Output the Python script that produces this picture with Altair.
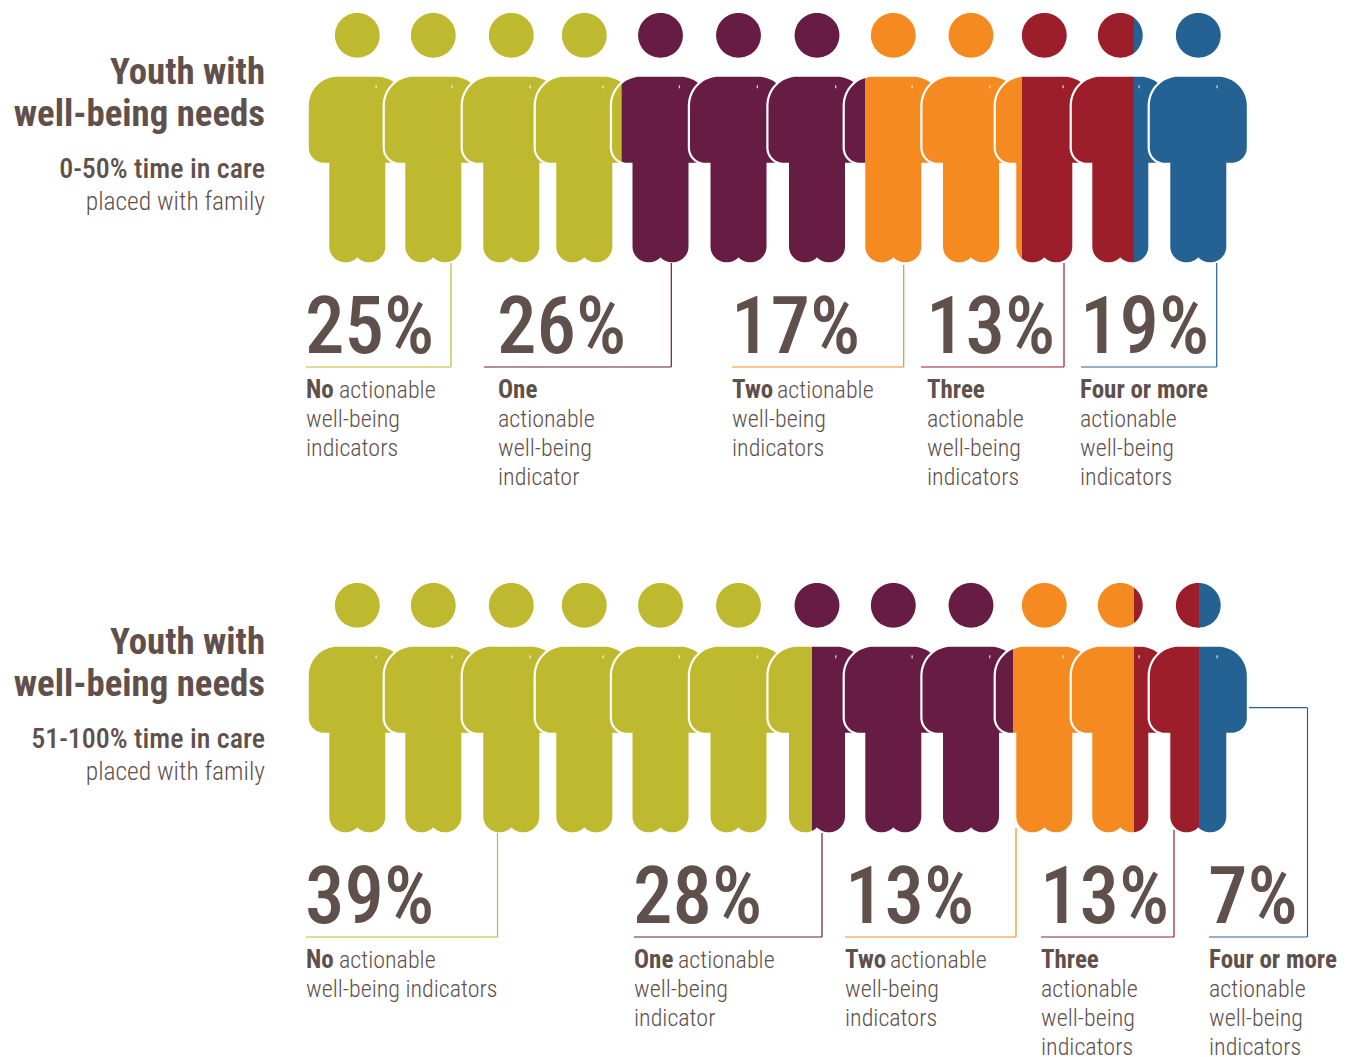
import math
import altair as alt
import pandas as pd

# --- values -----------------------------------------------------------------
person_x = [357.3, 433.3, 511.3, 584.3, 660.5, 738.5, 817, 893.3, 971, 1044.3, 1120.3, 1198.3]
palette = ["#BFB92F", "#661C43", "#F58B20", "#9B1E2A", "#256294"]
ink = "#5F504C"

panel_offset = [0, 570]
body_splits = [[621.7, 865, 1022, 1133.7], [812, 1013, 1134, 1199]]
head_splits = [[621.7, 865, 1022, 1133.7], [794, 1013, 1134, 1199]]

shares = [[25, 26, 17, 13, 19], [39, 28, 13, 13, 7]]
share_x = [[305, 497, 731, 926, 1080], [305, 633, 845, 1040, 1208]]

rule_start = [[306, 484, 732, 921, 1081], [306, 634, 845, 1041, 1209]]
rule_end = [[451, 671.3, 903.7, 1064, 1216.7], [497.5, 822, 1016, 1174, 1307.5]]
rule_top = [[263, 263, 265, 263, 263], [263, 263, 258, 260, 138]]
rule_base = 367

label_bold = [
    ["No", "One", "Two", "Three", "Four or more"],
    ["No", "One", "Two", "Three", "Four or more"],
]
label_rest_x = [[339, None, 777, None, None], [339, 678, 890, None, None]]
label_first_rest = [["actionable", None, "actionable", None, None],
                    ["actionable", "actionable", "actionable", None, None]]
label_lines = [
    [["well-being", "indicators"],
     ["actionable", "well-being", "indicator"],
     ["well-being", "indicators"],
     ["actionable", "well-being", "indicators"],
     ["actionable", "well-being", "indicators"]],
    [["well-being indicators"],
     ["well-being", "indicator"],
     ["well-being", "indicators"],
     ["actionable", "well-being", "indicators"],
     ["actionable", "well-being", "indicators"]],
]
label_x = [[306, 498, 732, 927, 1080], [306, 634, 845, 1041, 1209]]

heading = ["Youth with", "well-being needs"]
subheading = ["0-50% time in care", "51-100% time in care"]
subheading_rest = "placed with family"

# --- pictogram geometry -----------------------------------------------------
HEAD_Y, HEAD_R = 35.3, 22.4
BODY_TOP = 76.7
FAR = 1e4


def arc(cx, cy, rx, ry, a0, a1, n=16):
    return [(cx + rx * math.cos(math.radians(a0 + (a1 - a0) * i / n)),
             cy + ry * math.sin(math.radians(a0 + (a1 - a0) * i / n))) for i in range(n + 1)]


def silhouette():
    """Closed outline of a figure's body, origin at the top centre."""
    right = []
    right += arc(48.5 - 29, 29, 29, 29, -90, 0)
    right += arc(48.5 - 15, 86 - 15, 15, 15, 0, 90)
    right += [(28, 86)]
    right += arc(11.8, 170, 16.2, 15.6, 0, 137)
    left = [(-x, y) for x, y in reversed(right)]
    return right + left


def clip_band(points, lo, hi):
    """Keep the part of a polygon between two vertical edges."""
    def side(poly, edge, sign):
        kept = []
        for i, (x0, y0) in enumerate(poly):
            x1, y1 = poly[(i + 1) % len(poly)]
            if sign * (x0 - edge) >= 0:
                kept.append((x0, y0))
            if (sign * (x0 - edge) >= 0) != (sign * (x1 - edge) >= 0):
                t = (edge - x0) / (x1 - x0)
                kept.append((edge, y0 + t * (y1 - y0)))
        return kept
    return side(side(points, lo, 1), hi, -1)


def to_path(points):
    return "M" + "L".join(f"{x:.2f},{y:.2f}" for x, y in points) + "Z"


def pieces(outline, cx, cy, splits, half_width):
    """One path per colour band that the outline crosses; each band runs just past the next."""
    edges = [-FAR] + splits + [FAR]
    out = []
    for i, colour in enumerate(palette):
        lo, hi = edges[i], edges[i + 1]
        if lo < cx + half_width and hi > cx - half_width:
            poly = clip_band(outline, lo - cx, hi + 0.4 - cx)
            out.append(dict(x=cx, y=cy, path=to_path(poly), fill=colour,
                            stroke="transparent", sw=0))
    return out


BODY = silhouette()
HEAD = arc(0, 0, HEAD_R, HEAD_R, 0, 360, 72)[:-1]

shapes = []
ticks = []
for panel, dy in enumerate(panel_offset):
    for cx in person_x:
        shapes += pieces(HEAD, cx, HEAD_Y + dy, head_splits[panel], HEAD_R)
        # white halo first, so each body bites into the figure before it
        shapes.append(dict(x=cx, y=BODY_TOP + dy, path=to_path(BODY), fill="#FFFFFF",
                           stroke="#FFFFFF", sw=4.4))
        shapes += pieces(BODY, cx, BODY_TOP + dy, body_splits[panel], 48.5)
        ticks.append(dict(x=cx + 18.8, y=85.3 + dy, y2=88.3 + dy))

X = alt.X("x:Q", axis=None, scale=alt.Scale(domain=[0, 1351], nice=False, zero=False))
Y = alt.Y("y:Q", axis=None, scale=alt.Scale(domain=[1057, 0], nice=False, zero=False))

figures = alt.Chart(pd.DataFrame(shapes)).mark_point(filled=True, size=4, opacity=1).encode(
    x=X, y=Y,
    shape=alt.Shape("path:N", scale=None, legend=None),
    fill=alt.Fill("fill:N", scale=None, legend=None),
    stroke=alt.Stroke("stroke:N", scale=None, legend=None),
    strokeWidth=alt.StrokeWidth("sw:Q", scale=None, legend=None),
)
shoulder_ticks = alt.Chart(pd.DataFrame(ticks)).mark_rule(color="#FFFFFF", strokeWidth=1).encode(
    x=X, y=Y, y2="y2:Q")

# --- connector rules --------------------------------------------------------
segments = []
for panel, dy in enumerate(panel_offset):
    for i, colour in enumerate(palette):
        x0, x1, top = rule_start[panel][i], rule_end[panel][i], rule_top[panel][i]
        base = rule_base + dy
        segments.append(dict(x=x0, x2=x1, y=base, y2=base, colour=colour))
        segments.append(dict(x=x1, x2=x1, y=top + dy, y2=base, colour=colour))
segments.append(dict(x=1249, x2=1307.5, y=707.7, y2=707.7, colour=palette[4]))
connectors = alt.Chart(pd.DataFrame(segments)).mark_rule(strokeWidth=1.2).encode(
    x=X, x2="x2:Q", y=Y, y2="y2:Q", color=alt.Color("colour:N", scale=None, legend=None))

# --- text -------------------------------------------------------------------
FONT = "Roboto Condensed"


def text_layer(rows, size, weight="normal", align="left", **extra):
    return alt.Chart(pd.DataFrame(rows)).mark_text(
        font=FONT, fontSize=size, fontWeight=weight, align=align, baseline="alphabetic",
        color=ink, **extra
    ).encode(x=X, y=Y, text="t:N")


head_rows, sub_bold, sub_plain, big, bold, plain = [], [], [], [], [], []
for panel, dy in enumerate(panel_offset):
    head_rows.append(dict(t=heading[0], x=265, y=84 + dy))
    head_rows.append(dict(t=heading[1], x=265, y=126 + dy))
    sub_bold.append(dict(t=subheading[panel], x=265, y=178 + dy))
    sub_plain.append(dict(t=subheading_rest, x=265, y=210 + dy))
    for i in range(5):
        big.append(dict(t=f"{shares[panel][i]}%", x=share_x[panel][i], y=353 + dy))
        bold.append(dict(t=label_bold[panel][i], x=label_x[panel][i], y=397.5 + dy))
        if label_first_rest[panel][i]:
            plain.append(dict(t=label_first_rest[panel][i], x=label_rest_x[panel][i], y=397.5 + dy))
        for n, line in enumerate(label_lines[panel][i]):
            plain.append(dict(t=line, x=label_x[panel][i], y=397.5 + dy + 29.3 * (n + 1)))

chart = alt.layer(
    figures,
    shoulder_ticks,
    connectors,
    text_layer(head_rows, 36.8, "bold", "right"),
    text_layer(sub_bold, 28, 500, "right"),
    text_layer(sub_plain, 25.5, 300, "right"),
    text_layer(big, 79, 500, "left"),
    text_layer(bold, 25, "bold"),
    text_layer(plain, 24, 300),
).properties(width=1351, height=1057, padding=0, autosize=alt.AutoSizeParams(type="none")
).configure_view(stroke=None)

chart.save("out.html", embed_options={"renderer": "svg", "actions": False})
